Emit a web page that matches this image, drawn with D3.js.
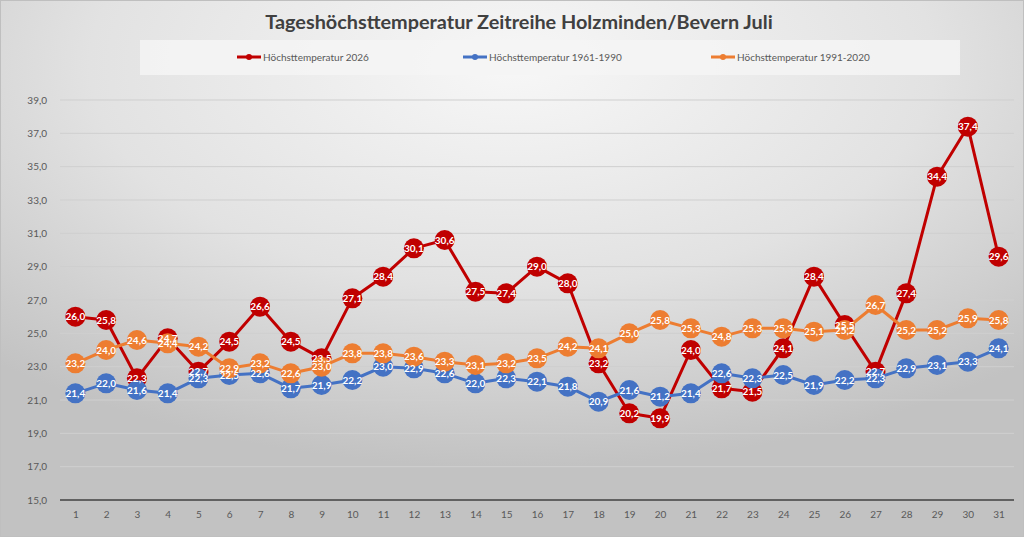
<!DOCTYPE html>
<html lang="de">
<head>
<meta charset="UTF-8">
<title>Tageshöchsttemperatur Zeitreihe Holzminden/Bevern Juli</title>
<script src="https://d3js.org/d3.v7.min.js"></script>
<style>
  body { margin: 0; padding: 0; background: #fff; }
  svg { display: block; font-family: Lato, "Open Sans", sans-serif; }
</style>
</head>
<body>
<svg id="chart" width="1024" height="537"></svg>
<script>
// data
const days = d3.range(1, 32);
const t2026 = [26.0, 25.8, 22.3, 24.7, 22.7, 24.5, 26.6, 24.5, 23.5, 27.1, 28.4, 30.1, 30.6, 27.5, 27.4, 29.0,
  28.0, 23.2, 20.2, 19.9, 24.0, 21.7, 21.5, 24.1, 28.4, 25.5, 22.7, 27.4, 34.4, 37.4, 29.6];
const t6190 = [21.4, 22.0, 21.6, 21.4, 22.3, 22.5, 22.6, 21.7, 21.9, 22.2, 23.0, 22.9, 22.6, 22.0, 22.3, 22.1,
  21.8, 20.9, 21.6, 21.2, 21.4, 22.6, 22.3, 22.5, 21.9, 22.2, 22.3, 22.9, 23.1, 23.3, 24.1];
const t9120 = [23.2, 24.0, 24.6, 24.4, 24.2, 22.9, 23.2, 22.6, 23.0, 23.8, 23.8, 23.6, 23.3, 23.1, 23.2, 23.5,
  24.2, 24.1, 25.0, 25.8, 25.3, 24.8, 25.3, 25.3, 25.1, 25.2, 26.7, 25.2, 25.2, 25.9, 25.8];
const yTicks = d3.range(15, 40, 2);

const series = [
  { name: "Höchsttemperatur 2026", values: t2026, color: "#c00000", lx: 237 },
  { name: "Höchsttemperatur 1961-1990", values: t6190, color: "#4472c4", lx: 463 },
  { name: "Höchsttemperatur 1991-2020", values: t9120, color: "#ed7d31", lx: 711 }
];

const W = 1024, H = 537;
const svg = d3.select("#chart");
const fmt = v => v.toFixed(1).replace(".", ",");

// background
const defs = svg.append("defs");
const grad = defs.append("radialGradient").attr("id", "bg")
  .attr("cx", "50%").attr("cy", "12%").attr("r", "75%");
grad.append("stop").attr("offset", "0%").attr("stop-color", "#f7f7f7");
grad.append("stop").attr("offset", "55%").attr("stop-color", "#e2e2e2");
grad.append("stop").attr("offset", "100%").attr("stop-color", "#c2c2c2");
svg.append("rect").attr("width", W).attr("height", H).attr("fill", "url(#bg)");
svg.append("rect").attr("x", 0.5).attr("y", 0.5).attr("width", W - 1).attr("height", H - 1)
  .attr("fill", "none").attr("stroke", "#bfbfbf");

// title
const title = svg.append("text").attr("x", 519).attr("y", 29)
  .attr("text-anchor", "middle").attr("fill", "#404040")
  .attr("font-weight", "bold").attr("font-size", 20)
  .text("Tageshöchsttemperatur Zeitreihe Holzminden/Bevern Juli");
const tw = title.node().getComputedTextLength();
title.attr("font-size", 20 * 508 / tw);

// legend
svg.append("rect").attr("x", 140).attr("y", 40).attr("width", 820).attr("height", 35)
  .attr("fill", "#f4f4f4").attr("opacity", 0.85);
const leg = svg.selectAll(".leg").data(series).enter().append("g").attr("class", "leg")
  .attr("transform", d => `translate(${d.lx},57)`);
leg.append("line").attr("x1", 0).attr("x2", 24).attr("stroke", d => d.color).attr("stroke-width", 3);
leg.append("circle").attr("cx", 12).attr("r", 3).attr("fill", d => d.color);
leg.append("text").attr("x", 26).attr("dy", "0.35em").attr("font-size", 10).attr("fill", "#595959")
  .text(d => d.name);

// scales
const x = d3.scalePoint().domain(days).range([60, 1014]).padding(0.5);
const y = d3.scaleLinear().domain([15, 39]).range([500, 100]);

// grid
svg.append("g").selectAll("line").data(yTicks.filter(t => t > 15)).enter().append("line")
  .attr("x1", 60).attr("x2", 1014).attr("y1", d => y(d)).attr("y2", d => y(d))
  .attr("stroke", "#cfcfcf").attr("stroke-width", 1);
svg.append("line").attr("x1", 60).attr("x2", 1014).attr("y1", y(15)).attr("y2", y(15))
  .attr("stroke", "#404040").attr("stroke-width", 1.5);

// axes
const yAxis = svg.append("g").attr("transform", "translate(50,0)")
  .call(d3.axisLeft(y).tickValues(yTicks).tickFormat(fmt).tickSize(0));
yAxis.select(".domain").remove();
yAxis.selectAll("text").attr("font-size", 10).attr("fill", "#595959").attr("font-family", "Lato, sans-serif");

const xAxis = svg.append("g").attr("transform", `translate(0,${y(15) + 8})`)
  .call(d3.axisBottom(x).tickSize(0));
xAxis.select(".domain").remove();
xAxis.selectAll("text").attr("font-size", 10).attr("fill", "#595959").attr("font-family", "Lato, sans-serif");

// lines and markers
const line = d3.line().x((d, i) => x(days[i])).y(d => y(d));
series.forEach(s => {
  const g = svg.append("g");
  g.append("path").attr("d", line(s.values)).attr("fill", "none")
    .attr("stroke", s.color).attr("stroke-width", 3).attr("stroke-linejoin", "round");
  g.selectAll("circle").data(s.values).enter().append("circle")
    .attr("cx", (d, i) => x(days[i])).attr("cy", d => y(d)).attr("r", 10)
    .attr("fill", s.color);
});

// data labels on top
series.forEach(s => {
  svg.append("g").selectAll("text").data(s.values).enter().append("text")
    .attr("x", (d, i) => x(days[i])).attr("y", d => y(d)).attr("dy", "0.35em")
    .attr("text-anchor", "middle").attr("font-size", 10).attr("font-weight", "bold")
    .attr("fill", "#fff").text(fmt);
});
</script>
</body>
</html>
